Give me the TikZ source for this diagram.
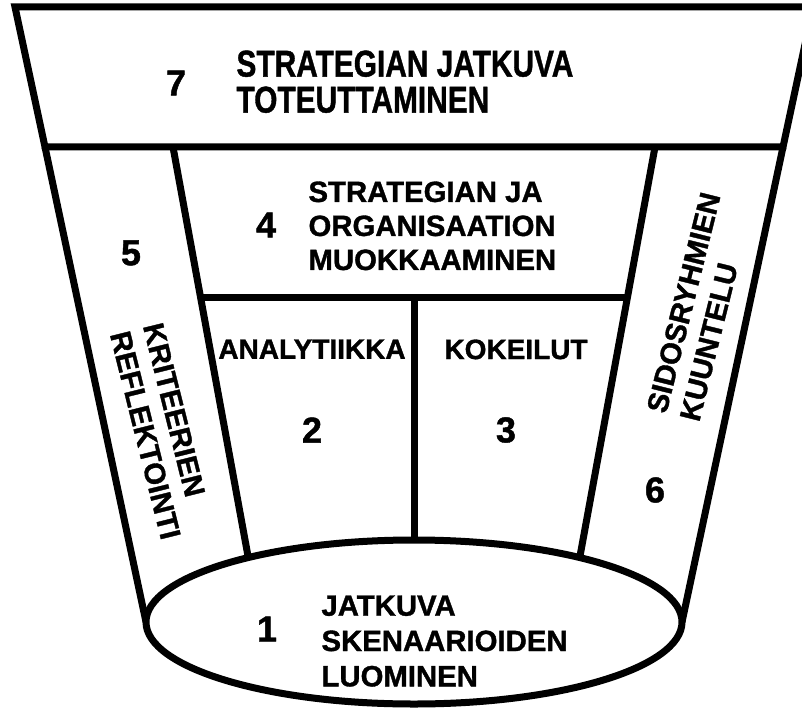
\documentclass[tikz,border=0pt]{standalone}
\usepackage{fontspec}
\setmainfont{Liberation Sans}[BoldFeatures={FakeBold=1.2}]
\begin{document}
\begin{tikzpicture}[x=0.75pt,y=-0.75pt,line width=5.25pt,line join=miter,
  lbl/.style={font=\fontsize{22}{25.5}\selectfont\bfseries,inner sep=0pt,align=left},
  celllbl/.style={font=\fontsize{21}{25.5}\selectfont\bfseries,inner sep=0pt},
  bignum/.style={font=\fontsize{27}{27}\selectfont\bfseries,inner sep=0pt},
  toplbl/.style={font=\fontsize{28}{27}\selectfont\bfseries,inner sep=0pt,align=left}]
\useasboundingbox (0,0) rectangle (802,709);
\fill[white] (0,0) rectangle (802,709);
\clip (0,0) rectangle (802,709);
% key points
\coordinate (TL) at (15,7);
\coordinate (TR) at (813,7);
\coordinate (BL) at (45,147);
\coordinate (BR) at (783,147);
\coordinate (EL) at (146,622);
\coordinate (ER) at (682,622);
\coordinate (IL1) at (173,147);
\coordinate (IL2) at (250,567);
\coordinate (IR1) at (655,147);
\coordinate (IR2) at (578,567);
\coordinate (HL) at (200.4,297);
\coordinate (HR) at (627.6,297);
\coordinate (D1) at (414,297);
\coordinate (D2) at (414,570);
\coordinate (EC) at (414,622);
% outline
\draw (TL) -- (TR) -- (BR) -- (BL) -- cycle;
\draw (BL) -- (EL);
\draw (BR) -- (ER);
\draw (IL1) -- (IL2);
\draw (IR1) -- (IR2);
\draw (HL) -- (HR);
\draw (D1) -- (D2);
\draw[fill=white] (EC) ellipse [x radius=201pt, y radius=61.5pt];
% texts
\node[toplbl,anchor=north west] (t7) at (233,47) {\scalebox{0.8}[1]{STRATEGIAN JATKUVA}\\\scalebox{0.8}[1]{TOTEUTTAMINEN}};
\node[bignum] (n7) at (176,83) {7};
\node[lbl,anchor=north west] (t4) at (305,178) {STRATEGIAN JA\\ORGANISAATION\\MUOKKAAMINEN};
\node[bignum] (n4) at (266,225) {4};
\node[celllbl,anchor=north] (t2) at (312,336) {ANALYTIIKKA};
\node[celllbl,anchor=north] (t3) at (516,336) {KOKEILUT};
\node[bignum] (n2) at (312,430) {2};
\node[bignum] (n3) at (506,430) {3};
\node[bignum] (n5) at (131,253) {5};
\node[bignum] (n6) at (655,490) {6};
\node[bignum] (n1) at (267,629) {1};
\node[lbl,anchor=north west,rotate=-76] (t5) at (165,317) {KRITEERIEN\\REFLEKTOINTI};
\node[lbl,anchor=north west,rotate=76] (t6) at (642,412) {SIDOSRYHMIEN\\KUUNTELU};
\node[lbl,anchor=north west,font=\fontsize{22}{26.5}\selectfont\bfseries] (t1) at (318,592) {JATKUVA\\SKENAARIOIDEN\\LUOMINEN};
\end{tikzpicture}
\end{document}
